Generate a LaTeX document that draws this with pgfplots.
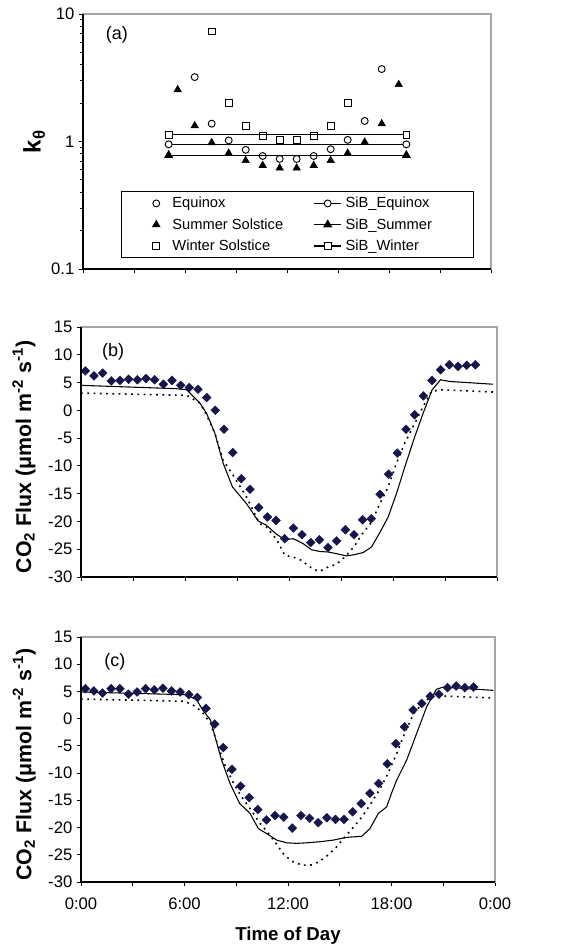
\documentclass[border=0pt]{standalone}
\usepackage{fontspec}
\setmainfont{Liberation Sans}
\usepackage{pgfplots}
\usepackage{pgfplotstable}
\pgfplotsset{compat=1.18}
\definecolor{navy}{RGB}{22,22,74}

% ---------- panel (b) data ----------
\pgfplotstableread{
x y
0.25 7.1
0.75 6.2
1.25 6.7
1.75 5.3
2.25 5.4
2.75 5.6
3.25 5.5
3.75 5.7
4.25 5.5
4.75 4.7
5.25 5.4
5.75 4.5
6.25 4.1
6.75 3.8
7.25 2.3
7.75 0.0
8.25 -3.4
8.75 -7.6
9.25 -12.3
9.75 -14.2
10.25 -17.5
10.75 -19.2
11.25 -19.8
11.75 -23.1
12.25 -21.2
12.75 -22.4
13.25 -23.8
13.75 -23.3
14.25 -24.7
14.75 -23.5
15.25 -21.5
15.75 -22.4
16.25 -19.7
16.75 -19.5
17.25 -15.1
17.75 -11.5
18.25 -7.7
18.75 -3.4
19.25 -0.8
19.75 2.6
20.25 5.4
20.75 7.3
21.25 8.2
21.75 7.9
22.25 8.1
22.75 8.2
}\bobs
\pgfplotstableread{
x y
0 4.5
5.5 3.9
6.1 3.7
6.86 1.3
7.24 -0.5
7.72 -4.1
8.2 -9.5
8.74 -13.8
9.55 -16.8
10.22 -19.9
10.7 -20.7
11.24 -22.2
11.76 -23.3
12.24 -23.1
12.82 -24.0
13.3 -25.1
13.78 -25.4
14.26 -25.5
14.74 -25.8
15.3 -26.2
15.74 -26.0
16.28 -25.6
16.76 -24.6
17.24 -22.0
17.72 -19.2
18.2 -15.0
18.68 -10.2
19.26 -4.7
19.74 -0.5
20.26 3.7
20.74 5.5
21.27 5.2
23.77 4.7
}\bsolid
\pgfplotstableread{
x y
0 3.1
6.1 2.7
6.86 1.3
7.24 -0.8
7.72 -4.1
8.2 -9.0
8.78 -11.7
9.55 -15.6
10.3 -20.4
10.7 -21.0
11.3 -23.3
11.76 -26.1
12.24 -26.4
12.72 -27.0
13.3 -28.4
13.74 -29.0
14.26 -28.2
14.74 -27.7
15.22 -26.4
15.74 -24.6
16.24 -22.2
16.76 -20.1
17.24 -16.8
17.72 -13.8
18.2 -9.5
18.68 -5.9
19.26 -2.3
19.74 0.7
20.22 3.4
20.74 3.7
23.77 3.3
}\bdot

% ---------- panel (c) data ----------
\pgfplotstableread{
x y
0.25 5.5
0.75 5.1
1.25 4.7
1.75 5.5
2.25 5.5
2.75 4.5
3.25 4.9
3.75 5.5
4.25 5.3
4.75 5.6
5.25 5.1
5.75 4.9
6.25 4.4
6.75 3.9
7.25 1.9
7.75 -1.0
8.25 -5.3
8.75 -9.3
9.25 -12.4
9.75 -14.5
10.25 -16.7
10.75 -18.6
11.25 -17.8
11.75 -18.1
12.25 -20.1
12.75 -17.8
13.25 -18.3
13.75 -19.1
14.25 -18.2
14.75 -18.5
15.25 -18.5
15.75 -17.1
16.25 -15.6
16.75 -13.7
17.25 -11.9
17.75 -8.3
18.25 -4.6
18.75 -1.5
19.25 1.6
19.75 2.8
20.25 4.1
20.75 4.5
21.25 5.7
21.75 6.0
22.25 5.7
22.75 5.8
}\cobs
\pgfplotstableread{
x y
0 4.9
6.1 4.4
6.7 3.5
7.05 1.6
7.5 -0.2
7.77 -3.3
8.15 -7.6
8.64 -11.9
9.2 -15.6
9.8 -17.4
10.28 -20.2
10.76 -21.1
11.34 -22.3
11.92 -22.8
12.5 -22.9
13.08 -22.8
13.86 -22.6
14.63 -22.3
15.4 -21.8
16.27 -21.6
16.75 -20.2
17.24 -17.4
17.72 -16.2
18.0 -13.7
18.3 -11.3
18.88 -7.6
19.46 -2.7
20.04 2.2
20.6 5.4
21.0 5.8
23.9 5.2
}\csolid
\pgfplotstableread{
x y
0 3.6
6.0 3.2
6.5 2.5
7.0 1.3
7.5 -0.8
7.9 -4.5
8.3 -8.2
8.8 -11.6
9.3 -14.3
9.8 -16.5
10.3 -18.9
10.8 -20.8
11.3 -22.9
11.8 -25.1
12.3 -26.3
12.8 -26.9
13.3 -26.9
13.8 -26.3
14.3 -25.1
14.8 -23.6
15.3 -21.7
15.8 -19.9
16.3 -18.0
16.8 -15.6
17.3 -13.1
17.8 -10.0
18.3 -6.4
18.8 -2.4
19.3 1.0
19.8 2.8
20.3 4.1
20.8 4.2
23.8 3.8
}\cdot

\pgfplotsset{
  base/.style={
    scale only axis,
    tick align=outside,
    tick pos=left,
    major tick length=3pt,
    minor tick length=2pt,
    tick style={black, line width=0.6pt},
    axis line style={draw=gray!70, line width=0.8pt},
    tick label style={font=\fontsize{12.5}{14}\selectfont},
    xmin=0, xmax=24,
    xtick={0,3,6,9,12,15,18,21,24},
    clip=false,
    after end axis/.code={\draw[black, line width=0.8pt] (rel axis cs:0,1) -- (rel axis cs:0,0) -- (rel axis cs:1,0);},
  },
  flux/.style={
    ymin=-30, ymax=15,
    ytick={-30,-25,-20,-15,-10,-5,0,5,10,15},
    yticklabels={-30,-25,-20,-15,-10,-5,0,5,10,15},
    ylabel={CO\textsubscript{2} Flux (μmol m\textsuperscript{-2} s\textsuperscript{-1})},
    ylabel style={at={(rel axis cs:-0.137,0.48)}, anchor=center, font=\bfseries\fontsize{16}{18}\selectfont},
  },
  obsd/.style={only marks, mark=square*, mark size=2.35pt, mark options={rotate=45, fill=navy, draw=navy, line width=0.3pt}},
  simsolid/.style={black, line width=0.8pt, no marks},
  simdot/.style={black, line width=1.2pt, dash pattern=on 1.3pt off 3.4pt, no marks},
  markimg/.style={draw=none, legend image code/.code={\draw[mark repeat=2,mark phase=2,##1,draw=none] plot coordinates {(0cm,0cm) (0.78cm,0cm) (1.1cm,0cm)};}},
  lineimg/.style={legend image code/.code={\draw[mark repeat=2,mark phase=2,##1] plot coordinates {(0cm,0cm) (0.35cm,0cm) (0.7cm,0cm)};}},
}

\begin{document}
\begin{tikzpicture}
\useasboundingbox (0,0) rectangle (438.75pt,-709.5pt);

% ================= (a) =================
\begin{axis}[base,
  at={(62.25pt,-10.5pt)}, anchor=north west,
  width=306pt, height=191.25pt,
  ymode=log, ymin=0.1, ymax=10,
  ytick={0.1,1,10}, yticklabels={0.1,1,10},
  minor ytick={0.2,0.3,0.4,0.5,0.6,0.7,0.8,0.9,2,3,4,5,6,7,8,9},
  xticklabels={},
  ylabel={k\textsubscript{θ}},
  ylabel style={at={(rel axis cs:-0.12,0.5)}, anchor=center, font=\bfseries\fontsize{18}{20}\selectfont},
  legend columns=2,
  legend cell align=left,
  legend style={at={(0.093,0.043)}, anchor=south west, draw=black, line width=0.6pt,
    font=\fontsize{11}{13}\selectfont, inner xsep=4pt, inner ysep=2pt, row sep=2.5pt,
    nodes={inner xsep=3pt},
    /tikz/every even column/.append style={column sep=20pt}},
]
\addplot[markimg, mark=o, mark size=2.6pt, mark options={draw=black, line width=0.7pt}]
  coordinates {(6.57,3.2) (7.57,1.38) (8.57,1.02) (9.57,0.86) (10.57,0.77) (11.57,0.73) (12.57,0.73) (13.57,0.77) (14.57,0.87) (15.57,1.03) (16.57,1.45) (17.57,3.7)};
\addlegendentry{Equinox}
\addplot[lineimg, black, line width=0.8pt, mark=*, mark size=2.6pt, mark options={line width=0.7pt, fill=white}]
  coordinates {(5.04,0.95) (19.02,0.95)};
\addlegendentry{SiB\_Equinox\hspace*{24pt}}
\addplot[markimg, mark=triangle*, mark size=3.2pt, mark options={draw=black, fill=black}]
  coordinates {(5.57,2.55) (6.57,1.33) (7.57,0.98) (8.57,0.81) (9.57,0.71) (10.57,0.65) (11.57,0.62) (12.57,0.62) (13.57,0.65) (14.57,0.71) (15.57,0.81) (16.57,0.99) (17.57,1.38) (18.57,2.8)};
\addlegendentry{Summer Solstice}
\addplot[lineimg, black, line width=0.8pt, mark=triangle*, mark size=3.2pt]
  coordinates {(5.04,0.78) (19.02,0.78)};
\addlegendentry{SiB\_Summer\hspace*{24pt}}
\addplot[markimg, mark=square, mark size=2.5pt, mark options={draw=black, line width=0.7pt}]
  coordinates {(7.57,7.3) (8.57,2.0) (9.57,1.33) (10.57,1.1) (11.57,1.03) (12.57,1.03) (13.57,1.1) (14.57,1.33) (15.57,2.0)};
\addlegendentry{Winter Solstice}
\addplot[lineimg, black, line width=0.8pt, mark=square*, mark size=2.5pt, mark options={line width=0.7pt, fill=white}]
  coordinates {(5.04,1.13) (19.02,1.13)};
\addlegendentry{SiB\_Winter\hspace*{24pt}}
\node[font=\fontsize{13.5}{15}\selectfont] at (rel axis cs:0.083,0.918) {(a)};
\end{axis}

% ================= (b) =================
\begin{axis}[base, flux,
  at={(60.75pt,-245.25pt)}, anchor=north west,
  width=312pt, height=187.5pt,
  xticklabels={},
]
\addplot[simsolid] table {\bsolid};
\addplot[simdot] table {\bdot};
\addplot[obsd] table {\bobs};
\node[font=\fontsize{13.5}{15}\selectfont] at (rel axis cs:0.077,0.9) {(b)};
\end{axis}

% ================= (c) =================
\begin{axis}[base, flux,
  at={(60.75pt,-477.75pt)}, anchor=north west,
  width=310.5pt, height=183.75pt,
  xticklabels={0:00,,6:00,,12:00,,18:00,,0:00},
  xticklabel style={yshift=-5pt},
  xlabel={Time of Day},
  xlabel style={at={(rel axis cs:0.5,-0.22)}, anchor=center, font=\bfseries\fontsize{14}{16}\selectfont},
]
\addplot[simsolid] table {\csolid};
\addplot[simdot] table {\cdot};
\addplot[obsd] table {\cobs};
\node[font=\fontsize{13.5}{15}\selectfont] at (rel axis cs:0.082,0.898) {(c)};
\end{axis}
\end{tikzpicture}
\end{document}
